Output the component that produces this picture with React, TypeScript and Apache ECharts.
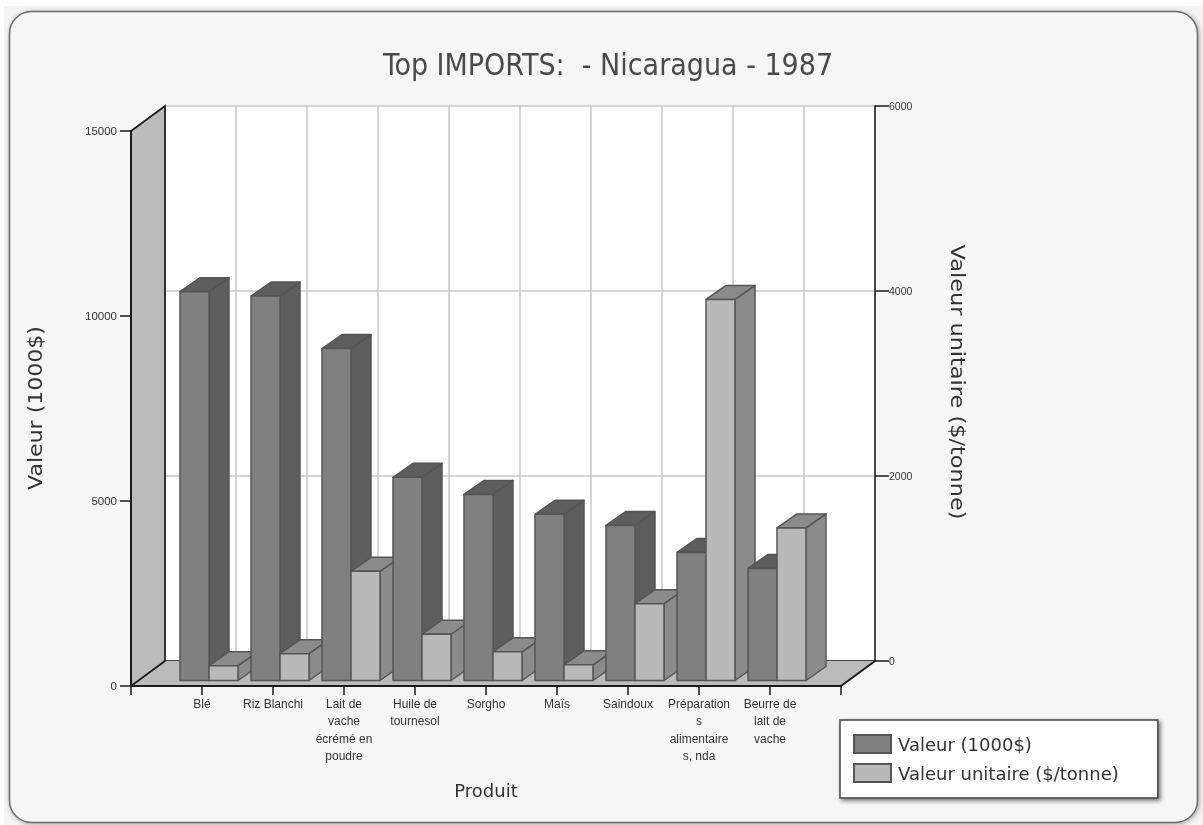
import React, { useEffect, useRef } from "react";
import * as echarts from "echarts";

const categories = [
  "",
  "Blé",
  "Riz Blanchi",
  "Lait de\nvache\nécrémé en\npoudre",
  "Huile de\ntournesol",
  "Sorgho",
  "Maïs",
  "Saindoux",
  "Préparation\ns\nalimentaire\ns, nda",
  "Beurre de\nlait de\nvache",
  "",
];
const valeur = [10510, 10390, 8970, 5490, 5030, 4490, 4190, 3460, 3030];
const valeurUnitaire = [160, 290, 1180, 500, 310, 170, 830, 4120, 1650];

const nameValeur = "Valeur (1000$)";
const nameUnitaire = "Valeur unitaire ($/tonne)";

// 3D layout
const plot = { left: 131, top: 131, width: 710, height: 555 };
const depth = { x: 34, y: 25 };
const inset = { x: 7, y: 5.5 };
const barDepth = { x: 20, y: 14 };
const barWidth = 29;

const liberation = "'Liberation Sans', sans-serif";
const cond = "'DejaVu Sans Condensed', 'DejaVu Sans', sans-serif";
const dejavu = "'DejaVu Sans', sans-serif";

function box(x0: number, x1: number, yTop: number, yBase: number, front: string, dark: string, z2: number) {
  const dx = barDepth.x;
  const dy = barDepth.y;
  const stroke = "#555555";
  const common = { lineWidth: 1.5, stroke, lineJoin: "round" };
  return {
    type: "group",
    children: [
      {
        type: "polygon",
        z2,
        shape: { points: [[x1, yTop], [x1 + dx, yTop - dy], [x1 + dx, yBase - dy], [x1, yBase]] },
        style: { fill: dark, ...common },
      },
      {
        type: "polygon",
        z2,
        shape: { points: [[x0, yTop], [x0 + dx, yTop - dy], [x1 + dx, yTop - dy], [x1, yTop]] },
        style: { fill: dark, ...common },
      },
      {
        type: "rect",
        z2: z2 + 0.5,
        shape: { x: x0, y: yTop, width: x1 - x0, height: yBase - yTop },
        style: { fill: front, ...common },
      },
    ],
  };
}

export default function App() {
  const ref = useRef<HTMLDivElement>(null);
  useEffect(() => {
    const chart = echarts.init(ref.current!, undefined, { renderer: "svg" });
    const option: any = {
      animation: false,
      backgroundColor: "transparent",
      graphic: {
        elements: [
          { type: "rect", z: -3, silent: true, shape: { x: 4, y: 6, width: 1199, height: 819 }, style: { fill: "#f4f6f6" } },
          {
            type: "rect",
            z: -2,
            silent: true,
            shape: { x: 9.5, y: 11.5, width: 1188, height: 811, r: 22 },
            style: { fill: "#f5f7f7", stroke: "#6a6a6a", lineWidth: 1.5, shadowBlur: 5, shadowColor: "rgba(0,0,0,0.35)", shadowOffsetX: 1, shadowOffsetY: 1 },
          },
          {
            type: "text",
            silent: true,
            x: 36,
            y: 408,
            rotation: Math.PI / 2,
            scaleX: 1.16,
            scaleY: 1,
            style: { text: nameValeur, fontFamily: dejavu, fontSize: 19, fill: "#333333", textAlign: "center", textVerticalAlign: "middle" },
          },
          {
            type: "text",
            silent: true,
            x: 957,
            y: 382,
            rotation: -Math.PI / 2,
            scaleX: 1.18,
            scaleY: 1,
            style: { text: nameUnitaire, fontFamily: dejavu, fontSize: 19, fill: "#333333", textAlign: "center", textVerticalAlign: "middle" },
          },
        ],
      },
      title: {
        text: "Top IMPORTS:  - Nicaragua - 1987",
        left: 378,
        top: 44,
        textStyle: { fontFamily: cond, fontSize: 30, fontWeight: "normal", color: "#4a4a4a" },
      },
      grid: [
        { left: plot.left, top: plot.top, width: plot.width, height: plot.height, show: false },
        {
          left: plot.left + depth.x,
          top: plot.top - depth.y,
          width: plot.width,
          height: plot.height,
          show: true,
          backgroundColor: "#ffffff",
          borderWidth: 0,
        },
      ],
      xAxis: [
        {
          type: "category",
          gridIndex: 0,
          data: categories,
          boundaryGap: false,
          position: "bottom",
          z: 5,
          axisLine: { show: true, lineStyle: { color: "#1a1a1a", width: 2 } },
          axisTick: { show: true, alignWithLabel: true, interval: 0, length: 9, lineStyle: { color: "#1a1a1a", width: 1.5 } },
          axisLabel: { show: true, interval: 0, margin: 9, fontFamily: liberation, fontSize: 12, lineHeight: 17.5, color: "#333333", verticalAlign: "top", hideOverlap: false },
          splitLine: { show: false },
          name: "Produit",
          nameLocation: "middle",
          nameGap: 95,
          nameTextStyle: { fontFamily: dejavu, fontSize: 18, color: "#333333" },
        },
        {
          type: "category",
          gridIndex: 1,
          data: categories,
          boundaryGap: false,
          position: "bottom",
          axisLine: { show: true, lineStyle: { color: "#1a1a1a", width: 1.5 } },
          axisTick: { show: false },
          axisLabel: { show: false },
          splitLine: { show: true, interval: 0, lineStyle: { color: "#c8c8c8", width: 1.5 } },
        },
      ],
      yAxis: [
        {
          type: "value",
          gridIndex: 0,
          position: "left",
          min: 0,
          max: 15000,
          interval: 5000,
          z: 5,
          axisLine: { show: true, lineStyle: { color: "#1a1a1a", width: 2 } },
          axisTick: { show: true, length: 11, lineStyle: { color: "#1a1a1a", width: 1.5 } },
          axisLabel: { margin: 14, fontFamily: liberation, fontSize: 11.5, color: "#333333", formatter: (v: number) => String(v) },
          splitLine: { show: false },
        },
        {
          type: "value",
          gridIndex: 1,
          position: "right",
          min: 0,
          max: 6000,
          interval: 2000,
          axisLine: { show: true, onZero: false, lineStyle: { color: "#1a1a1a", width: 1.5 } },
          axisTick: { show: true, length: 14, lineStyle: { color: "#1a1a1a", width: 1.5 } },
          axisLabel: { margin: 14, fontFamily: liberation, fontSize: 10.5, color: "#333333", formatter: (v: number) => String(v) },
          splitLine: { show: true, lineStyle: { color: "#c8c8c8", width: 1.5 } },
        },
      ],
      legend: {
        orient: "vertical",
        left: 840,
        top: 720,
        data: [nameValeur, nameUnitaire],
        icon: "rect",
        itemWidth: 37,
        itemHeight: 18,
        itemGap: 9,
        padding: [14, 39, 15, 13],
        backgroundColor: "#ffffff",
        borderColor: "#444444",
        borderWidth: 1.5,
        shadowBlur: 4,
        shadowColor: "rgba(0,0,0,0.55)",
        shadowOffsetX: 2,
        shadowOffsetY: 2,
        selectedMode: false,
        textStyle: { fontFamily: dejavu, fontSize: 18, lineHeight: 18, color: "#333333", padding: [0, 0, 0, 2] },
      },
      series: [
        {
          type: "custom",
          name: "walls",
          xAxisIndex: 0,
          yAxisIndex: 0,
          z: 1,
          silent: true,
          data: [[0, 0]],
          renderItem: (_: any, api: any) => {
            const lb = api.coord([0, 0]);
            const rb = api.coord([10, 0]);
            const lt = api.coord([0, 15000]);
            const d = (p: number[]) => [p[0] + depth.x, p[1] - depth.y];
            return {
              type: "group",
              children: [
                {
                  type: "polygon",
                  shape: { points: [lb, d(lb), d(rb), rb] },
                  style: { fill: "#bbbbbb", stroke: "none" },
                },
                {
                  type: "line",
                  shape: { x1: rb[0], y1: rb[1], x2: d(rb)[0], y2: d(rb)[1] },
                  style: { stroke: "#1a1a1a", lineWidth: 2 },
                },
                {
                  type: "polygon",
                  shape: { points: [lb, d(lb), d(lt), lt] },
                  style: { fill: "#bbbbbb", stroke: "#1a1a1a", lineWidth: 1.7 },
                },
              ],
            };
          },
        },
        {
          type: "custom",
          name: nameValeur,
          xAxisIndex: 0,
          yAxisIndex: 0,
          z: 3,
          itemStyle: { color: "#808080", borderColor: "#555555", borderWidth: 1.5 },
          encode: { x: 0, y: 1 },
          data: valeur.map((v, i) => [i + 1, v]),
          renderItem: (_: any, api: any) => {
            const i = api.value(0);
            const top = api.coord([i, api.value(1)]);
            const base = api.coord([i, 0]);
            const x1 = top[0] + inset.x;
            return box(x1 - barWidth, x1, top[1] - inset.y, base[1] - inset.y, "#808080", "#5d5d5d", i * 2);
          },
        },
        {
          type: "custom",
          name: nameUnitaire,
          xAxisIndex: 1,
          yAxisIndex: 1,
          z: 3,
          itemStyle: { color: "#b9b9b9", borderColor: "#555555", borderWidth: 1.5 },
          encode: { x: 0, y: 1 },
          data: valeurUnitaire.map((v, i) => [i + 1, v]),
          renderItem: (_: any, api: any) => {
            const i = api.value(0);
            const top = api.coord([i, api.value(1)]);
            const base = api.coord([i, 0]);
            const sx = inset.x - depth.x;
            const sy = depth.y - inset.y;
            const x0 = top[0] + sx;
            return box(x0, x0 + barWidth, top[1] + sy, base[1] + sy, "#b9b9b9", "#8b8b8b", i * 2 + 1);
          },
        },
      ],
    };
    chart.setOption(option);
    return () => chart.dispose();
  }, []);
  return <div ref={ref} style={{ position: "fixed", left: 0, top: 0, width: 1203, height: 825 }} />;
}
